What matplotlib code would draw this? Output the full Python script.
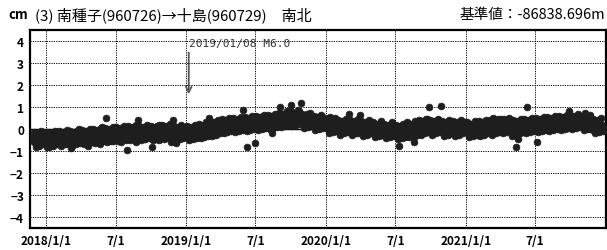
import matplotlib
matplotlib.use("Agg")
import matplotlib.pyplot as plt
import pandas as pd

# ---- data (cm): three interleaved 5-day sample sets ----
vals_2017 = [-0.3, -0.6, -0.45, -0.2, -0.7, -0.35, -0.5, -0.25]  # from 2017-11-26
vals_2018 = [-0.55, -0.3, -0.75, -0.4, -0.2, -0.6,
             -0.45, -0.15, -0.5, -0.3, -0.65, -0.25,
             -0.4, -0.85, -0.2, -0.5, -0.3, 0.0,
             -0.45, -0.1, -0.6, -0.3, -0.75, -0.2,
             -0.35, -0.05, -0.5, -0.2, -0.7, 0.1,
             -0.3, 0.5, -0.45, -0.1, -0.25, -0.55,
             -0.05, -0.4, -0.15, -0.6, 0.0, -0.3,
             -0.95, -0.2, -0.45, 0.05, -0.25, -0.6,
             0.4, -0.3, -0.1, -0.45, 0.1, -0.2,
             -0.35, -0.8, 0.0, -0.25, 0.15, -0.5,
             -0.2, 0.1, -0.4, 0.05, -0.3, -0.6,
             0.4, -0.2, -0.65, -0.05, -0.35, 0.05, -0.25]
vals_2019 = [-0.3, -0.05, -0.45, -0.15, 0.0, -0.35,
             -0.2, 0.1, -0.1, 0.15, -0.3, 0.0,
             0.5, -0.1, 0.2, -0.05, 0.25, 0.0,
             0.05, 0.3, -0.1, 0.2, 0.35, 0.0,
             0.1, 0.35, -0.05, 0.3, 0.15, 0.4,
             0.85, 0.1, -0.8, 0.35, 0.15, 0.45,
             -0.65, 0.2, 0.45, 0.1, 0.35, 0.5,
             0.2, 0.5, 0.3, -0.2, 0.45, 0.6,
             0.3, 1.0, 0.55, 0.25, 0.65, 0.4,
             0.75, 1.1, 0.4, 0.6, 0.3, 0.8,
             1.2, 0.5, 0.25, 0.7, 0.35, 0.55,
             0.15, 0.45, 0.2, 0.55, 0.05, 0.3, 0.4]
vals_2020 = [0.3, 0.0, 0.55, 0.1, 0.25, -0.1,
             0.2, -0.15, 0.15, 0.3, 0.0, 0.1,
             0.7, -0.1, 0.25, 0.05, 0.2, -0.2,
             0.65, 0.1, -0.15, 0.2, 0.0, 0.15,
             -0.1, 0.15, -0.2, 0.1, -0.05, 0.2,
             -0.25, 0.05, -0.15, 0.1, -0.3, 0.0,
             -0.2, 0.05, -0.75, -0.15, 0.0, -0.35,
             0.1, -0.2, 0.2, -0.05, -0.6, 0.15,
             0.25, -0.1, 0.35, 0.0, 0.2, 0.45,
             1.0, 0.1, -0.1, 0.3, 0.05, 0.2,
             1.05, 0.0, 0.2, -0.15, 0.1, 0.25,
             -0.1, 0.15, 0.0, 0.25, -0.05, 0.1, 0.2]
vals_2021 = [0.1, -0.15, 0.2, -0.05, 0.05, -0.2,
             0.15, -0.1, 0.25, 0.0, 0.3, -0.05,
             0.2, 0.0, 0.5, 0.1, -0.1, 0.25,
             0.3, 0.05, 0.45, 0.1, -0.05, 0.2,
             -0.3, 0.1, -0.8, -0.45, 0.15, 0.25,
             0.05, 0.3, 1.0, 0.15, 0.35, 0.0,
             0.25, -0.6, 0.1, 0.4, 0.2, 0.3,
             0.15, 0.45, 0.1, 0.35, 0.2, 0.5,
             0.4, 0.15, 0.5, 0.25, 0.55, 0.1,
             0.8, 0.3, 0.5, 0.15, 0.45, 0.6,
             0.2, 0.45, 0.75, 0.1, 0.35, 0.0,
             0.25, -0.1, 0.3, 0.05, 0.2, -0.05]

vals_2017_b = [-0.5, -0.25, -0.65, -0.4, -0.3, -0.55, -0.2, -0.45]  # from 2017-11-28
vals_2018_b = [-0.25, -0.6, -0.4, -0.7, -0.5, -0.35,
               -0.6, -0.35, -0.2, -0.55, -0.4, -0.7,
               -0.25, -0.55, -0.65, -0.3, -0.5, -0.2,
               -0.5, -0.25, -0.4, -0.55, -0.15, -0.45,
               -0.15, -0.45, -0.3, -0.55, -0.1, -0.35,
               -0.45, -0.15, -0.3, -0.5, 0.0, -0.2,
               -0.35, -0.1, -0.45, -0.25, -0.05, -0.5,
               -0.3, 0.05, -0.35, -0.1, -0.5, -0.2,
               -0.25, 0.0, -0.4, -0.2, -0.05, -0.35,
               -0.05, -0.3, -0.2, -0.45, 0.05, -0.1,
               -0.35, 0.0, -0.15, -0.3, 0.1, -0.2,
               -0.3, 0.05, -0.15, -0.4, -0.1, -0.25, 0.0]
vals_2019_b = [-0.1, -0.35, 0.05, -0.25, -0.4, -0.1,
               0.05, -0.25, -0.05, -0.15, 0.1, -0.2,
               -0.1, 0.15, 0.0, 0.3, -0.15, 0.1,
               0.25, 0.0, 0.15, -0.05, 0.3, 0.1,
               0.35, 0.05, 0.25, 0.1, 0.4, 0.0,
               0.15, 0.4, 0.05, 0.3, 0.5, 0.2,
               0.4, 0.15, 0.3, 0.55, 0.05, 0.35,
               0.45, 0.15, 0.55, 0.25, 0.4, 0.2,
               0.55, 0.35, 0.7, 0.4, 0.3, 0.6,
               0.45, 0.7, 0.5, 0.35, 0.65, 0.5,
               0.35, 0.6, 0.4, 0.5, 0.25, 0.45,
               0.4, 0.2, 0.35, 0.1, 0.45, 0.25, 0.15]
vals_2020_b = [0.05, 0.3, 0.15, -0.05, 0.35, 0.2,
               0.25, 0.0, 0.3, 0.1, -0.1, 0.2,
               0.0, 0.3, 0.1, 0.25, -0.05, 0.15,
               0.15, -0.05, 0.25, 0.0, 0.1, -0.1,
               0.15, -0.1, 0.05, -0.2, 0.2, -0.05,
               0.05, -0.2, 0.1, -0.1, 0.0, -0.25,
               -0.25, 0.05, -0.1, -0.35, 0.0, -0.2,
               -0.15, 0.1, -0.05, 0.2, -0.3, 0.05,
               0.0, 0.2, 0.05, 0.3, 0.1, -0.05,
               0.2, -0.05, 0.25, 0.1, 0.3, 0.0,
               0.15, -0.1, 0.05, 0.25, -0.05, 0.1,
               0.2, -0.05, 0.15, 0.0, 0.25, -0.1, 0.05]
vals_2021_b = [-0.1, 0.15, 0.0, 0.2, -0.15, 0.1,
               -0.05, 0.2, 0.05, -0.15, 0.15, 0.1,
               0.0, 0.25, 0.1, 0.3, 0.05, -0.05,
               0.05, 0.3, 0.0, 0.25, 0.35, 0.1,
               0.2, -0.1, 0.15, 0.0, -0.2, 0.1,
               0.3, 0.1, 0.25, 0.05, 0.4, 0.2,
               0.05, 0.3, 0.2, -0.05, 0.35, 0.15,
               0.35, 0.1, 0.3, 0.4, 0.2, 0.15,
               0.2, 0.45, 0.3, 0.15, 0.4, 0.35,
               0.45, 0.25, 0.4, 0.55, 0.3, 0.2,
               0.4, 0.15, 0.3, 0.5, 0.25, 0.35,
               0.05, 0.3, 0.15, -0.05, 0.25, 0.1]

vals_2017_c = [-0.15, -0.8, -0.2, -0.75, -0.1, -0.7, -0.2, -0.8]  # from 2017-11-29
vals_2018_c = [-0.15, -0.8, -0.2, -0.75, -0.1, -0.7,
               -0.1, -0.75, -0.15, -0.7, -0.05, -0.65,
               -0.1, -0.75, -0.15, -0.7, -0.05, -0.65,
               -0.05, -0.7, -0.1, -0.65, 0.0, -0.6,
               0.0, -0.65, -0.05, -0.6, 0.05, -0.55,
               0.05, -0.6, 0.0, -0.55, 0.1, -0.5,
               0.1, -0.55, 0.05, -0.5, 0.15, -0.45,
               0.15, -0.5, 0.1, -0.45, 0.2, -0.4,
               0.15, -0.5, 0.1, -0.45, 0.2, -0.4,
               0.15, -0.5, 0.1, -0.45, 0.2, -0.4,
               0.2, -0.45, 0.15, -0.4, 0.25, -0.35,
               0.15, -0.5, 0.1, -0.45, 0.2, -0.4, 0.1]
vals_2019_c = [0.15, -0.5, 0.1, -0.45, 0.2, -0.4,
               0.25, -0.4, 0.2, -0.35, 0.3, -0.3,
               0.35, -0.3, 0.3, -0.25, 0.4, -0.2,
               0.45, -0.2, 0.4, -0.15, 0.5, -0.1,
               0.5, -0.15, 0.45, -0.1, 0.55, -0.05,
               0.55, -0.1, 0.5, -0.05, 0.6, 0.0,
               0.6, -0.05, 0.55, 0.0, 0.65, 0.05,
               0.65, 0.0, 0.6, 0.05, 0.7, 0.1,
               0.75, 0.1, 0.7, 0.15, 0.8, 0.2,
               0.8, 0.15, 0.75, 0.2, 0.85, 0.25,
               0.7, 0.05, 0.65, 0.1, 0.75, 0.15,
               0.6, -0.05, 0.55, 0.0, 0.65, 0.05, 0.5]
vals_2020_c = [0.45, -0.2, 0.4, -0.15, 0.5, -0.1,
               0.4, -0.25, 0.35, -0.2, 0.45, -0.15,
               0.4, -0.25, 0.35, -0.2, 0.45, -0.15,
               0.35, -0.3, 0.3, -0.25, 0.4, -0.2,
               0.3, -0.35, 0.25, -0.3, 0.35, -0.25,
               0.25, -0.4, 0.2, -0.35, 0.3, -0.3,
               0.2, -0.45, 0.15, -0.4, 0.25, -0.35,
               0.3, -0.35, 0.25, -0.3, 0.35, -0.25,
               0.4, -0.25, 0.35, -0.2, 0.45, -0.15,
               0.4, -0.25, 0.35, -0.2, 0.45, -0.15,
               0.35, -0.3, 0.3, -0.25, 0.4, -0.2,
               0.35, -0.3, 0.3, -0.25, 0.4, -0.2, 0.3]
vals_2021_c = [0.3, -0.35, 0.25, -0.3, 0.35, -0.25,
               0.35, -0.3, 0.3, -0.25, 0.4, -0.2,
               0.4, -0.25, 0.35, -0.2, 0.45, -0.15,
               0.45, -0.2, 0.4, -0.15, 0.5, -0.1,
               0.4, -0.25, 0.35, -0.2, 0.45, -0.15,
               0.45, -0.2, 0.4, -0.15, 0.5, -0.1,
               0.5, -0.15, 0.45, -0.1, 0.55, -0.05,
               0.55, -0.1, 0.5, -0.05, 0.6, 0.0,
               0.6, -0.05, 0.55, 0.0, 0.65, 0.05,
               0.65, 0.0, 0.6, 0.05, 0.7, 0.1,
               0.6, -0.05, 0.55, 0.0, 0.65, 0.05,
               0.45, -0.2, 0.4, -0.15, 0.5, -0.1]

segments = [("2017-11-26", vals_2017), ("2018-01-01", vals_2018), ("2019-01-01", vals_2019),
            ("2020-01-01", vals_2020), ("2021-01-01", vals_2021),
            ("2017-11-28", vals_2017_b), ("2018-01-03", vals_2018_b), ("2019-01-03", vals_2019_b),
            ("2020-01-03", vals_2020_b), ("2021-01-03", vals_2021_b),
            ("2017-11-29", vals_2017_c), ("2018-01-04", vals_2018_c), ("2019-01-04", vals_2019_c),
            ("2020-01-04", vals_2020_c), ("2021-01-04", vals_2021_c)]

xtick_dates = ["2018-01-01", "2018-07-01", "2019-01-01", "2019-07-01",
               "2020-01-01", "2020-07-01", "2021-01-01", "2021-07-01"]
xtick_labels = ["2018/1/1", "7/1", "2019/1/1", "7/1", "2020/1/1", "7/1", "2021/1/1", "7/1"]
yticks = [-4, -3, -2, -1, 0, 1, 2, 3, 4]
ytick_labels = ["\u22124", "\u22123", "\u22122", "\u22121", "0", "1", "2", "3", "4"]

quake_date = "2019-01-08"
quake_label = "2019/01/08 M6.0"
title_left = "(3) 南種子(960726)→十島(960729)\u3000南北"
title_right = "基準値：-86838.696m"

plt.rcParams['font.family'] = ['Noto Sans CJK JP', 'DejaVu Sans']

fig = plt.figure(figsize=(6.07, 2.51), dpi=100)
ax = fig.add_axes([29.5/607, 22/251, (606-29.5)/607, (229-31)/251])

dates = []
values = []
for start, v in segments:
    d = pd.date_range(start, periods=len(v), freq="5D")
    dates.extend(d)
    values.extend(v)

ax.axhline(0, color="black", lw=1.0, zorder=1)
ax.plot(dates, values, "o", color="#1e1e1e", ms=4.9, mec="#1e1e1e", mew=0.5,
        linestyle="none", zorder=3)

ax.set_xlim(pd.Timestamp("2017-11-18"), pd.Timestamp("2022-01-02"))
ax.set_ylim(-4.5, 4.5)

ax.set_xticks([pd.Timestamp(d) for d in xtick_dates])
ax.set_xticklabels(xtick_labels)
ax.set_yticks(yticks)
ax.set_yticklabels(ytick_labels)
ax.tick_params(length=0, pad=4, labelsize=8.5)
for lab in ax.get_xticklabels() + ax.get_yticklabels():
    lab.set_fontweight("bold")
ax.grid(True, color="black", linestyle=(0, (1.2, 1.2)), lw=0.7)
ax.set_axisbelow(True)
for s in ax.spines.values():
    s.set_linewidth(1.6)

qd = pd.Timestamp(quake_date)
ax.annotate("", xy=(qd, 1.45), xytext=(qd, 3.6),
            arrowprops=dict(arrowstyle="->", color="#555555", lw=1.3,
                            mutation_scale=10), zorder=4)
ax.text(qd, 3.92, quake_label, fontsize=8, family="DejaVu Sans Mono",
        color="#333333", ha="left", va="center")

fig.text(8/607, 1 - 15/251, "cm", fontsize=9.5, fontweight="bold", ha="left", va="center")
fig.text(35/607, 1 - 15/251, title_left, fontsize=10.8, ha="left", va="center")
fig.text(605/607, 1 - 15/251, title_right, fontsize=10.5, ha="right", va="center")

fig.savefig("out.png", dpi=100)
